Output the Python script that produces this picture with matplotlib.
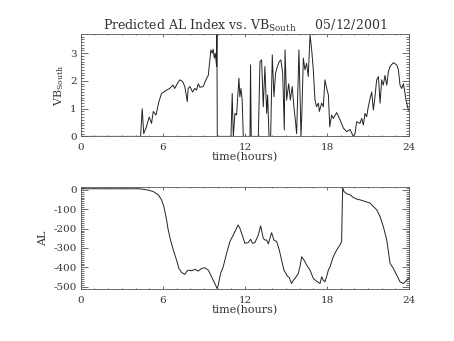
import matplotlib
matplotlib.use("Agg")
import matplotlib.pyplot as plt
from matplotlib.ticker import MultipleLocator

# ── data ─────────────────────────────────────────────────────────────────────
vb_t = [0.0, 4.37, 4.49, 4.6, 4.8, 5.0, 5.17, 5.3, 5.5, 5.68, 5.9, 6.07, 6.27,
        6.5, 6.75, 6.87, 7.05, 7.24, 7.44, 7.6, 7.73, 7.78, 7.85, 7.98, 8.17,
        8.34, 8.46, 8.59, 8.71, 8.95, 9.2, 9.32, 9.44, 9.51, 9.61, 9.68, 9.76,
        9.83, 9.93, 9.95, 9.98, 10.98, 11.07, 11.15, 11.27, 11.39, 11.56,
        11.63, 11.71, 11.8, 11.88, 12.37, 12.41, 12.46, 12.98, 13.1, 13.22,
        13.34, 13.46, 13.59, 13.66, 13.76, 13.88, 14.0, 14.12, 14.24, 14.37,
        14.51, 14.63, 14.76, 14.88, 14.93, 15.05, 15.2, 15.32, 15.46, 15.58,
        15.71, 15.78, 15.95, 16.1, 16.17, 16.27, 16.39, 16.51, 16.63, 16.76,
        16.88, 17.0, 17.12, 17.24, 17.37, 17.44, 17.61, 17.73, 17.85, 17.98,
        18.1, 18.2, 18.34, 18.46, 18.71, 18.95, 19.2, 19.44, 19.68, 19.93,
        20.05, 20.17, 20.41, 20.54, 20.66, 20.78, 20.9, 21.02, 21.15, 21.27,
        21.39, 21.51, 21.63, 21.76, 21.88, 22.0, 22.12, 22.24, 22.37, 22.49,
        22.61, 22.85, 23.1, 23.22, 23.34, 23.46, 23.59, 23.78, 23.95]
vb_val = [0.0, 0.0, 1.0, 0.1, 0.35, 0.7, 0.47, 0.9, 0.77, 1.2, 1.55, 1.6, 1.67,
          1.73, 1.85, 1.73, 1.9, 2.04, 1.98, 1.8, 1.43, 1.25, 1.73, 1.8, 1.6,
          1.73, 1.67, 1.9, 1.77, 1.8, 2.1, 2.2, 2.76, 3.12, 3.0, 3.14, 2.82,
          3.0, 2.52, 3.69, 0.0, 0.0, 1.55, 0.0, 0.83, 0.77, 2.1, 1.43, 1.73,
          1.3, 0.0, 0.0, 2.58, 0.0, 0.0, 2.7, 2.76, 1.07, 2.52, 0.83, 1.5, 0.0,
          0.0, 2.94, 1.43, 2.28, 2.52, 2.7, 2.76, 2.28, 0.23, 3.12, 1.31, 1.9,
          1.31, 1.8, 1.07, 0.47, 0.1, 3.12, 0.0, 0.95, 2.82, 2.4, 2.64, 2.16,
          3.66, 3.12, 2.4, 1.31, 1.07, 1.2, 0.9, 1.2, 1.07, 2.04, 1.73, 1.5,
          0.35, 0.77, 0.65, 0.86, 0.6, 0.3, 0.17, 0.25, 0.0, 0.1, 0.53, 0.47,
          0.65, 0.41, 0.83, 0.71, 1.07, 1.37, 1.6, 0.95, 1.43, 2.04, 2.16, 1.2,
          2.04, 1.85, 2.2, 1.85, 2.34, 2.52, 2.66, 2.58, 2.4, 1.85, 1.73, 1.9,
          1.31, 0.95]

al_t = [0.0, 4.3, 4.8, 5.29, 5.66, 5.9, 6.07, 6.27, 6.39, 6.56, 6.76, 7.0,
        7.17, 7.37, 7.6, 7.73, 7.85, 8.1, 8.34, 8.58, 8.83, 9.07, 9.32, 9.56,
        9.8, 9.97, 10.05, 10.22, 10.41, 10.66, 10.9, 11.15, 11.39, 11.5, 11.63,
        11.8, 12.0, 12.24, 12.41, 12.56, 12.73, 12.98, 13.15, 13.34, 13.46,
        13.59, 13.71, 13.83, 13.95, 14.12, 14.32, 14.51, 14.68, 14.85, 15.0,
        15.1, 15.24, 15.41, 15.54, 15.66, 15.9, 16.02, 16.15, 16.32, 16.51,
        16.76, 17.0, 17.24, 17.49, 17.61, 17.73, 17.85, 17.98, 18.1, 18.22,
        18.46, 18.71, 18.95, 19.07, 19.12, 19.15, 19.24, 19.44, 19.68, 19.93,
        20.17, 20.41, 20.78, 21.15, 21.39, 21.63, 21.88, 22.12, 22.37, 22.61,
        22.85, 23.1, 23.34, 23.59, 23.71, 23.95]
al_val = [5, 5, 0, -9, -26, -52, -86, -155, -207, -259, -310, -362, -405,
          -426, -436, -422, -414, -417, -410, -419, -405, -402, -414, -448,
          -483, -509, -491, -431, -397, -328, -267, -233, -198, -181, -198,
          -233, -276, -272, -255, -276, -272, -233, -186, -250, -259, -259,
          -279, -250, -221, -259, -267, -310, -362, -414, -431, -445, -452,
          -483, -466, -457, -431, -397, -345, -362, -388, -414, -457, -471,
          -483, -448, -466, -474, -445, -414, -397, -345, -310, -284, -267,
          -69, 10, -9, -21, -26, -40, -48, -52, -60, -69, -86, -103, -138,
          -190, -259, -379, -405, -440, -474, -483, -474, -457]

x_ticks = [0, 6, 12, 18, 24]

# ── figure ───────────────────────────────────────────────────────────────────
plt.rcParams["font.family"] = ["DejaVu Serif"]
plt.rcParams["mathtext.fontset"] = "dejavuserif"
plt.rcParams["axes.unicode_minus"] = False
txt = "#333333"

fig = plt.figure(figsize=(4.54, 3.41), dpi=100)
ax1 = fig.add_axes([0.178, 0.600, 0.723, 0.300])
ax2 = fig.add_axes([0.178, 0.152, 0.723, 0.299])


def idl_style(ax, ymin_step):
    ax.set_xlim(0, 24)
    ax.set_xticks(x_ticks)
    ax.xaxis.set_minor_locator(MultipleLocator(1))
    ax.yaxis.set_minor_locator(MultipleLocator(ymin_step))
    ax.tick_params(which="both", direction="in", top=True, right=True,
                   colors="#555555", labelcolor=txt, labelsize=7.5, width=0.6)
    ax.tick_params(axis="x", which="major", length=2.0, pad=5)
    ax.tick_params(axis="x", which="minor", length=1.0)
    ax.tick_params(axis="y", which="major", length=4.7, pad=3)
    ax.tick_params(axis="y", which="minor", length=2.4)
    for s in ax.spines.values():
        s.set_linewidth(0.6)
        s.set_color("#555555")
    ax.set_xlabel("time(hours)", fontsize=8, color=txt, labelpad=0)


# ── top panel: VB south ──────────────────────────────────────────────────────
ax1.plot(vb_t, vb_val, color="#222222", lw=0.7)
ax1.set_ylim(0, 3.69)
ax1.set_yticks([0, 1, 2, 3])
idl_style(ax1, 0.1)
ax1.set_ylabel(r"VB$_{\rm South}$", fontsize=8, color=txt, labelpad=3)
ax1.set_title(r"Predicted AL Index vs. VB$_{\rm South}$     05/12/2001",
              fontsize=9, color=txt, pad=3)

# ── bottom panel: AL ─────────────────────────────────────────────────────────
ax2.plot(al_t, al_val, color="#222222", lw=0.7)
ax2.set_ylim(-512, 13)
ax2.set_yticks([0, -100, -200, -300, -400, -500])
idl_style(ax2, 10)
ax2.set_ylabel("AL", fontsize=8, color=txt, labelpad=4)

fig.savefig("out.png", dpi=100)
